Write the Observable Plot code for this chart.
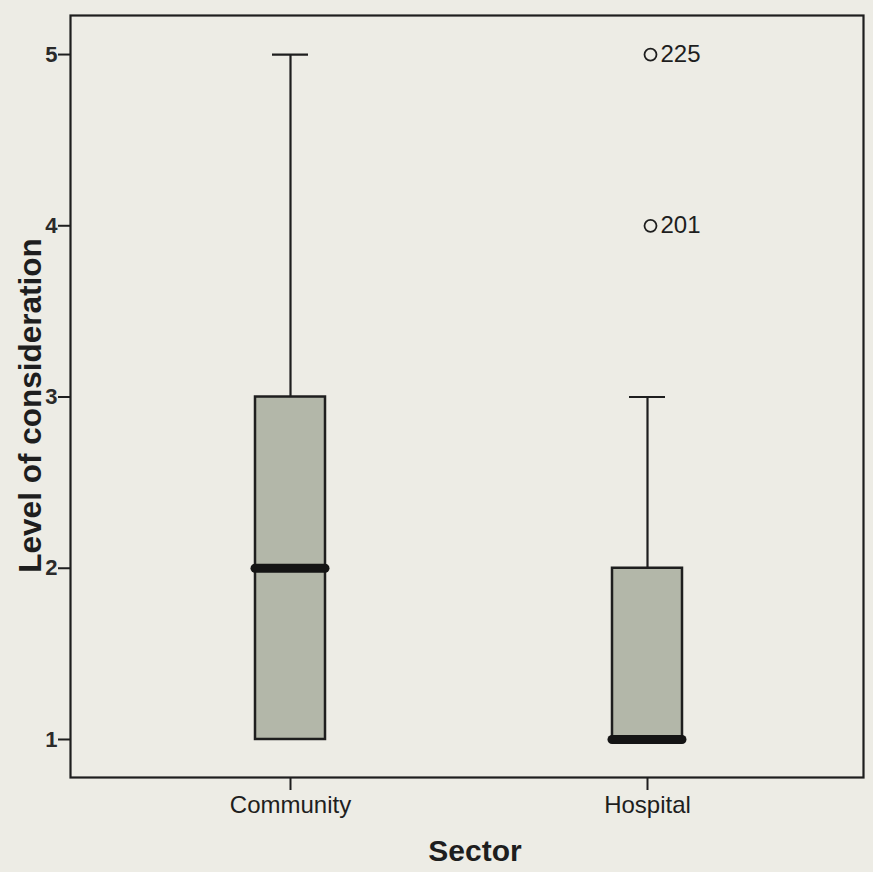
<!DOCTYPE html>
<html>
<head>
<meta charset="utf-8">
<script src="https://cdn.jsdelivr.net/npm/d3@7"></script>
<script src="https://cdn.jsdelivr.net/npm/@observablehq/plot@0.6"></script>
<style>
  html, body { margin: 0; padding: 0; background: #edece5; }
  #chart { width: 873px; height: 872px; }
  g[aria-label="y-axis tick label"] text, g[aria-label="y-axis tick label"] { font-size: 22px; font-weight: bold; }
</style>
</head>
<body>
<div id="chart"></div>
<script>
// Data
const sectors = ["Community", "Hospital"];
const q1 = [1, 1];
const median = [2, 1];
const q3 = [3, 2];
const whiskerLow = [1, 1];
const whiskerHigh = [5, 3];
const outlierSector = ["Hospital", "Hospital"];
const outlierValue = [5, 4];
const outlierLabel = ["225", "201"];
const yTicks = [1, 2, 3, 4, 5];

const boxes = sectors.map((s, i) => ({
  sector: s, q1: q1[i], median: median[i], q3: q3[i], lo: whiskerLow[i], hi: whiskerHigh[i]
}));
const outliers = outlierSector.map((s, i) => ({sector: s, value: outlierValue[i], label: outlierLabel[i]}));

const ink = "#1e1e1e";

const chart = Plot.plot({
  width: 873,
  height: 872,
  marginLeft: 70,
  marginTop: 15,
  marginRight: 10,
  marginBottom: 95,
  style: {background: "transparent", fontFamily: "Liberation Sans, Arial, sans-serif", color: ink},
  x: {type: "band", domain: sectors, paddingInner: 0.804, paddingOuter: 0.5125, align: 0.505},
  y: {domain: [0.778, 5.228]},
  marks: [
    Plot.frame({stroke: ink, strokeWidth: 2.2}),
    // upper whiskers
    Plot.ruleX(boxes.filter(d => d.hi > d.q3), {x: "sector", y1: "q3", y2: "hi", stroke: ink, strokeWidth: 2.2}),
    Plot.tickY(boxes.filter(d => d.hi > d.q3), {x: "sector", y: "hi", stroke: ink, strokeWidth: 2.2, inset: 17}),
    // lower whiskers (none visible since lo == q1)
    Plot.ruleX(boxes.filter(d => d.lo < d.q1), {x: "sector", y1: "lo", y2: "q1", stroke: ink, strokeWidth: 2.2}),
    // boxes
    Plot.barY(boxes, {x: "sector", y1: "q1", y2: "q3", fill: "#b3b7a9", stroke: ink, strokeWidth: 2.5}),
    // medians
    Plot.tickY(boxes, {x: "sector", y: "median", stroke: "#141414", strokeWidth: 9, strokeLinecap: "round"}),
    // outliers
    Plot.dot(outliers, {x: "sector", y: "value", r: 6, stroke: ink, strokeWidth: 1.8, fill: "none", dx: 3}),
    Plot.text(outliers, {x: "sector", y: "value", text: "label", textAnchor: "start", dx: 13, fontSize: 24, fill: ink}),
    // axes
    Plot.axisY({ticks: yTicks, tickFormat: d => d, tickSize: 12, tickPadding: 1, fontSize: 22, fontWeight: "bold", label: null, stroke: ink, strokeWidth: 2, fill: "#2a2a2a"}),
    Plot.axisX({tickSize: 13, tickPadding: 5, fontSize: 24, label: null, stroke: ink, strokeWidth: 2, fill: ink}),
    // axis titles
    Plot.text(["Level of consideration"], {frameAnchor: "left", dx: -40, dy: 9, rotate: -90, fontSize: 31.5, fontWeight: "bold", fill: ink, textAnchor: "middle"}),
    Plot.text(["Sector"], {frameAnchor: "bottom", dx: 8, dy: 83, fontSize: 30, fontWeight: "bold", fill: ink, textAnchor: "middle"})
  ]
});
document.getElementById("chart").appendChild(chart);
</script>
</body>
</html>
